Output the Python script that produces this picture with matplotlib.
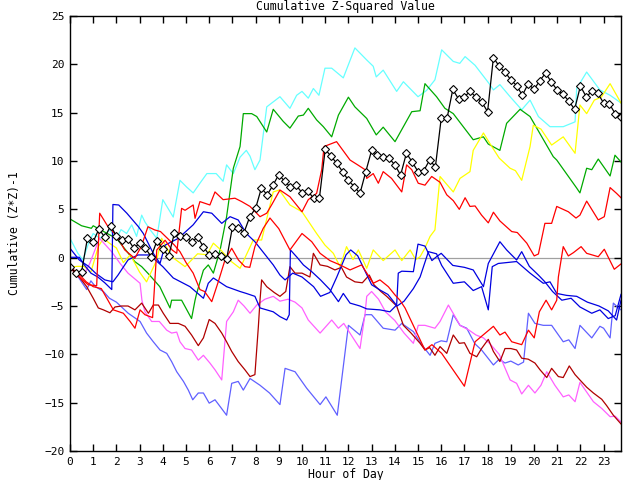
import numpy as np
import matplotlib
matplotlib.use("Agg")
import matplotlib.pyplot as plt

# hours of day, 15 minute steps (black series has a marker at every step)
black_x = np.arange(0, 24, 0.25)
black_y = [-0.93, -1.6, -1.45, 2.0, 1.65, 2.97, 2.1, 3.3, 2.25, 1.83, 1.9, 0.97,
           1.5, 0.97, 0.1, 1.76, 0.87, 0.18, 2.52, 2.24, 2.1, 1.65, 2.1, 1.14,
           0.28, 0.38, 0.18, -0.17, 3.14, 3.04, 2.6, 4.24, 5.1, 7.2, 6.5, 7.5,
           8.6, 7.9, 7.3, 7.5, 6.7, 6.9, 6.15, 6.15, 11.2, 10.5, 9.75, 8.9,
           8.0, 7.35, 6.65, 8.9, 11.1, 10.6, 10.4, 10.3, 9.6, 8.55, 10.8, 9.9,
           8.9, 9.0, 10.1, 9.4, 14.4, 14.4, 17.4, 16.4, 16.65, 17.2, 16.6, 16.1,
           15.1, 20.7, 19.8, 19.2, 18.4, 17.8, 16.8, 18.0, 17.4, 18.3, 19.1, 18.15,
           17.35, 16.9, 16.2, 15.35, 17.75, 16.65, 17.2, 17.0, 16.0, 15.9, 14.9, 14.5]

cyan_x = [0, 0.34, 0.56, 0.8, 1.0, 1.29, 1.72, 2.0, 2.2, 2.44, 2.66, 2.87, 3.09, 3.23,
          3.45, 3.74, 4.0, 4.45, 4.74, 5.03, 5.31, 5.6, 5.9, 6.3, 6.6, 6.75, 7.04, 7.33,
          7.6, 7.76, 7.97, 8.19, 8.48, 9.05, 9.48, 9.77, 10.0, 10.27, 10.49, 10.73, 10.99,
          11.28, 11.78, 12.28, 12.79, 13.07, 13.2, 13.5, 14.08, 14.37, 15.0, 15.37, 15.73,
          16.02, 16.52, 16.8, 17.03, 17.46, 18.1, 18.25, 18.53, 18.97, 19.47, 19.83, 20.19,
          20.69, 21.26, 21.77, 21.84, 22.27, 22.84, 23.28, 23.75]
cyan_y = [2.0, 0.45, -0.24, 1.5, 2.5, 2.0, 2.87, 2.0, 2.9, 2.5, 3.4, 2.2, 4.4, 3.7,
          2.9, 2.0, 6.0, 4.2, 8.0, 7.3, 6.7, 7.7, 8.7, 8.7, 7.9, 9.6, 8.7, 10.4,
          11.1, 10.5, 9.1, 10.1, 15.6, 16.65, 15.45, 16.8, 17.2, 16.5, 17.5, 16.8, 19.6,
          19.6, 18.6, 21.7, 20.45, 19.8, 18.7, 19.4, 17.2, 18.2, 16.65, 17.3, 18.4,
          21.5, 20.3, 20.1, 20.8, 19.9, 17.9, 17.35, 17.9, 16.65, 15.3, 16.3, 14.6,
          13.55, 13.55, 14.05, 17.5, 19.2, 17.35, 16.8, 16.0]

green_x = [0, 0.5, 0.92, 1.0, 1.72, 2.0, 2.4, 2.79, 3.09, 3.43, 3.87, 4.31, 4.38, 4.81,
           5.24, 5.39, 5.46, 5.75, 5.96, 6.18, 6.47, 6.75, 7.04, 7.33, 7.47, 7.83, 8.05,
           8.48, 8.76, 9.19, 9.48, 9.84, 10.06, 10.27, 10.63, 10.92, 11.28, 11.57, 12.0,
           12.28, 12.79, 13.2, 13.5, 14.01, 14.73, 15.09, 15.3, 15.8, 16.16, 16.52, 17.38,
           17.82, 18.03, 18.53, 18.82, 19.4, 19.83, 20.83, 20.98, 21.84, 21.98, 22.27,
           22.49, 22.77, 23.28, 23.49, 23.75]
green_y = [4.0, 3.3, 3.04, 3.3, 2.35, 2.0, 0.8, -0.4, -0.93, -1.8, -3.0, -5.2, -4.4, -4.4,
           -6.3, -4.4, -3.7, -1.3, -0.75, -1.6, 0.8, 4.24, 9.25, 11.5, 14.9, 14.9, 14.6,
           13.0, 15.35, 14.1, 13.4, 14.65, 14.75, 15.45, 14.25, 13.55, 12.5, 14.75, 16.6,
           15.6, 14.4, 12.7, 13.5, 12.0, 15.1, 15.2, 18.0, 16.65, 15.45, 14.9, 12.2,
           12.5, 11.75, 11.1, 13.9, 15.35, 14.6, 10.45, 10.1, 7.2, 6.7, 9.25,
           9.1, 10.2, 8.45, 10.6, 9.9]

yellow_x = [0, 0.3, 0.6, 0.9, 1.22, 1.44, 1.7, 2.0, 2.3, 2.6, 3.0, 3.3, 3.74, 3.95, 4.38,
            4.96, 5.5, 5.9, 6.18, 6.5, 6.9, 7.33, 7.9, 8.26, 8.76, 9.02, 9.48, 10.0, 10.63,
            10.99, 11.35, 11.64, 11.92, 12.2, 12.43, 12.79, 13.07, 13.5, 14.01, 14.3, 14.66,
            14.9, 15.09, 15.3, 15.52, 15.73, 15.95, 16.52, 16.81, 17.24, 17.38, 17.82, 18.1,
            18.5, 18.97, 19.2, 19.47, 19.83, 19.97, 20.3, 20.76, 21.26, 21.77, 21.98, 22.27,
            22.6, 22.9, 23.28, 23.75]
yellow_y = [-1.0, -0.9, -0.9, -1.5, 1.14, 2.0, 1.5, 1.0, -0.5, 0.3, -1.5, -2.5, -0.24, 2.0, 0.1,
            -0.93, 0.4, 0.3, 1.5, 0.8, -0.3, -1.1, 1.83, 1.83, 6.8, 7.0, 5.45, 4.75, 2.5,
            1.3, 0.45, -0.93, 1.14, -0.2, 0.8, -1.1, 0.8, -0.3, 0.8, -0.3, 0.8,
            -0.2, 0.1, 1.0, 2.2, 2.87, 8.4, 6.8, 8.2, 8.9, 11.1, 12.9, 11.8,
            10.3, 9.25, 9.0, 8.0, 11.5, 13.7, 13.3, 11.65, 12.5, 10.8, 15.8, 14.9,
            16.3, 16.6, 18.0, 16.0]

red_a_x = [0, 0.3, 0.7, 1.0, 1.35, 1.87, 2.3, 2.59, 2.8, 3.02, 3.23, 3.56, 3.74, 4.1, 4.4,
           4.6, 4.81, 4.96, 5.31, 5.39, 5.6, 6.03, 6.25, 6.6, 7.11, 7.4, 7.76, 8.19, 8.48,
           8.7, 9.05, 9.48, 10.0, 10.27, 10.63, 10.85, 10.95, 11.49, 12.07, 12.4, 12.72,
           12.79, 13.07, 13.29, 13.5, 13.86, 14.3, 14.51, 14.73, 15.01, 15.3, 15.59, 15.95,
           16.24, 16.52, 16.78, 17.03, 17.24, 17.46, 17.74, 18.03, 18.25, 18.53, 19.04,
           19.28, 19.69, 20.01, 20.19, 20.47, 20.76, 20.98, 21.48, 21.81, 21.98, 22.27,
           22.77, 23.03, 23.28, 23.56, 23.75]
red_a_y = [-1.0, -1.5, -2.5, -3.0, -3.2, -5.4, -5.75, -6.6, -7.3, -5.4, -5.9, -6.2, 0.8, 1.8, 0.8,
           0.45, 5.1, 4.9, 5.45, 4.07, 5.8, 5.45, 6.8, 6.0, 6.15, 5.8, 5.3, 4.24, 4.6,
           5.5, 7.0, 6.3, 4.75, 6.0, 6.65, 9.1, 11.5, 12.0, 10.1, 9.6, 9.1,
           8.2, 8.7, 7.7, 8.9, 8.2, 6.8, 9.6, 9.1, 7.7, 7.5, 8.4, 7.8,
           6.5, 5.9, 5.0, 6.2, 5.3, 5.35, 4.4, 3.6, 4.7, 3.8, 2.7,
           2.6, 1.5, 0.18, 0.38, 3.55, 3.55, 5.3, 4.75, 4.1, 4.4, 5.85,
           3.9, 4.24, 7.25, 6.65, 6.2]

red_b_x = [0, 0.3, 0.78, 1.15, 1.28, 1.64, 2.0, 2.36, 2.79, 3.07, 3.36, 3.65, 3.9, 4.2, 4.5,
           4.74, 5.0, 5.31, 5.6, 5.8, 6.11, 6.39, 6.68, 6.97, 7.26, 7.54, 7.75, 7.97, 8.33,
           8.62, 9.0, 9.48, 10.0, 10.42, 10.78, 11.2, 11.64, 12.07, 12.57, 13.07, 13.36,
           13.72, 14.01, 14.22, 14.44, 15.3, 15.6, 16.02, 17.0, 17.46, 18.25, 18.53, 18.75,
           19.04, 19.47, 19.76, 20.01, 20.23, 20.52, 20.76, 20.98, 21.05, 21.26, 21.48,
           21.7, 22.03, 22.27, 22.77, 23.03, 23.46, 23.75]
red_b_y = [-1.0, -1.8, -2.8, -2.9, 4.6, 3.2, 2.3, 0.8, -0.07, 1.14, 3.2, 2.87, 2.7, 2.0, 1.3,
           0.62, -0.5, -1.6, -3.3, -3.5, -4.55, -2.5, -0.24, 0.97, -0.24, -0.93, -1.0, 1.14, 3.04,
           4.1, 3.0, 0.8, 2.5, 1.65, 0.45, -0.3, -0.75, -1.27, -0.75, -2.65, -2.3,
           -3.0, -3.86, -4.4, -5.2, -9.55, -9.0, -9.9, -13.3, -8.7, -7.1, -8.0, -7.7,
           -8.7, -9.0, -7.5, -8.3, -5.6, -4.4, -5.4, -4.4, -2.0, 1.14, 0.18,
           0.52, 1.14, 0.45, 0.1, 0.87, -1.2, -0.65]

darkred_x = [0, 0.4, 0.72, 1.0, 1.22, 1.44, 1.72, 1.94, 2.23, 2.5, 2.8, 3.09, 3.38, 3.59,
             3.81, 4.02, 4.31, 4.67, 4.96, 5.24, 5.53, 5.75, 6.0, 6.25, 6.54, 6.75, 6.97,
             7.25, 7.54, 7.76, 7.97, 8.12, 8.19, 8.26, 8.48, 8.8, 9.05, 9.3, 9.48, 9.7,
             10.0, 10.34, 10.49, 10.78, 11.1, 11.42, 11.7, 11.92, 12.28, 12.6, 12.9, 13.1,
             13.4, 13.65, 14.08, 14.37, 14.7, 15.09, 15.3, 15.5, 15.73, 15.95, 16.24, 16.52,
             16.78, 17.0, 17.24, 17.53, 17.74, 18.03, 18.25, 18.53, 18.75, 19.0, 19.25,
             19.47, 19.75, 20.04, 20.26, 20.55, 20.76, 21.05, 21.26, 21.52, 21.77, 21.98,
             22.27, 22.56, 22.92, 23.13, 23.42, 23.75]
darkred_y = [-1.0, -2.0, -3.0, -4.2, -5.2, -5.4, -5.7, -5.1, -5.0, -5.0, -5.4, -4.7, -5.75, -4.9,
             -4.9, -5.75, -6.8, -6.8, -7.1, -8.0, -9.1, -8.3, -6.4, -6.8, -7.8, -8.7, -9.7,
             -10.75, -11.6, -12.3, -12.1, -7.1, -4.4, -2.3, -3.0, -3.6, -4.0, -3.5, -0.93, -1.6,
             -1.6, -2.0, 0.45, -0.75, -0.9, -1.27, -1.0, -2.0, -2.5, -2.6, -1.8, -2.8,
             -3.5, -4.0, -5.0, -7.0, -7.8, -8.86, -9.55, -9.3, -10.1, -9.2, -9.9, -8.0,
             -8.86, -8.8, -9.9, -10.25, -9.4, -8.45, -9.7, -10.75, -9.4, -9.4, -9.55,
             -10.4, -10.5, -10.9, -11.6, -12.4, -11.45, -12.3, -12.4, -11.2, -12.1, -12.65,
             -13.4, -14.0, -14.65, -15.3, -16.3, -17.2]

blue_a_x = [0, 0.4, 0.8, 1.1, 1.5, 1.85, 2.07, 2.5, 2.93, 3.43, 4.0, 4.45, 5.17, 5.75, 5.96,
            6.18, 6.75, 7.33, 7.6, 7.97, 8.19, 8.76, 9.05, 9.34, 9.45, 9.5, 9.8, 10.06,
            10.42, 10.8, 11.2, 11.57, 11.78, 12.07, 12.5, 12.79, 13.36, 13.79, 14.08, 14.15,
            14.3, 14.8, 15.0, 15.3, 15.6, 15.8, 16.0, 16.5, 17.0, 17.38, 17.82, 18.03,
            18.53, 18.82, 19.25, 19.47, 19.8, 20.19, 20.47, 20.8, 21.2, 21.6, 21.98, 22.49,
            22.84, 23.2, 23.5, 23.75]
blue_a_y = [0.97, -0.24, -0.9, -1.6, -2.3, -2.5, -1.8, -0.24, 0.28, 0.28, -0.93, -2.1, -3.0, -4.2, -2.65,
            -2.1, -3.0, -3.5, -3.7, -4.0, -5.2, -5.6, -6.1, -6.45, -5.9, 0.8, 0.0, -0.75,
            -1.45, -2.3, -3.3, -4.55, -3.7, -4.7, -5.0, -5.3, -5.4, -5.6, -4.9, -1.6,
            -1.4, -1.45, 1.4, 1.2, -0.3, 0.1, 0.45, -0.8, -1.0, -1.27, -3.0, -0.6,
            1.65, 0.8, -0.24, 0.62, -0.9, -1.8, -2.5, -3.5, -4.4, -4.2, -5.1, -5.75,
            -5.4, -6.3, -6.0, -3.8]

blue_b_x = [0, 0.4, 0.6, 0.9, 1.2, 1.5, 1.8, 1.85, 2.1, 2.45, 2.95, 3.16, 3.59, 3.88, 4.1,
            4.67, 5.31, 5.75, 6.11, 6.54, 6.9, 7.25, 7.6, 7.97, 8.76, 9.05, 9.27, 9.6, 10.0,
            10.5, 10.8, 11.2, 11.5, 11.9, 12.1, 12.4, 12.7, 13.0, 13.4, 13.7, 14.1, 14.4,
            14.8, 15.09, 15.45, 15.8, 16.02, 16.52, 17.0, 17.38, 17.74, 18.03, 18.2, 18.46,
            19.25, 19.83, 20.4, 20.69, 20.98, 21.4, 21.84, 22.3, 22.8, 23.2, 23.56, 23.75]
blue_b_y = [0.04, 0.04, -0.7, -1.6, -2.0, -2.6, -3.3, 5.5, 5.45, 4.6, 3.2, 2.5, 0.45, -0.6, 1.3,
            2.0, 3.4, 4.75, 4.6, 3.55, 4.24, 3.9, 2.5, 1.65, -0.75, -1.8, -2.3, -1.6, -2.0,
            -3.0, -4.0, -3.6, -2.0, 0.3, 0.8, 0.2, -1.3, -2.8, -3.4, -3.8, -5.0, -4.5,
            -3.2, -2.0, 0.62, 0.4, -0.8, -2.65, -2.5, -3.4, -3.0, -5.4, -0.93, -0.6,
            -0.4, -1.6, -2.65, -2.5, -3.7, -3.9, -4.0, -4.6, -5.0, -5.5, -6.45, -4.4]

slate_x = [0, 0.3, 0.72, 0.9, 1.1, 1.44, 1.7, 2.0, 2.51, 3.02, 3.3, 3.59, 3.88, 4.17, 4.38,
           4.6, 4.89, 5.1, 5.29, 5.53, 5.75, 6.0, 6.25, 6.47, 6.75, 6.97, 7.25, 7.47, 7.76,
           8.19, 8.6, 9.05, 9.27, 9.7, 10.2, 10.78, 11.03, 11.52, 12.0, 12.5, 12.72, 13.0,
           13.5, 14.01, 14.3, 14.8, 15.16, 15.52, 15.73, 16.0, 16.24, 16.52, 16.81, 17.1,
           17.45, 17.74, 18.25, 18.5, 18.75, 19.0, 19.32, 19.55, 19.76, 20.04, 20.4, 20.76,
           21.26, 21.5, 21.77, 21.98, 22.49, 22.84, 23.0, 23.28, 23.42, 23.55, 23.75]
slate_y = [-1.0, -1.8, -3.3, -2.4, -3.0, -3.5, -4.2, -4.6, -5.75, -6.6, -7.8, -8.7, -9.55, -9.9, -10.75,
           -11.8, -12.8, -13.7, -14.7, -14.0, -14.0, -15.05, -14.7, -15.4, -16.3, -13.0, -12.8, -13.7, -12.5,
           -13.2, -14.0, -15.2, -11.45, -11.8, -13.5, -15.2, -14.4, -16.3, -7.0, -8.0, -5.9, -5.9,
           -7.3, -7.5, -6.8, -7.65, -9.0, -10.1, -8.86, -8.6, -8.7, -5.9, -7.0, -7.3,
           -8.9, -9.55, -11.1, -10.5, -10.9, -10.7, -11.1, -10.8, -5.75, -6.8, -7.0, -7.0,
           -8.7, -8.5, -9.4, -7.0, -8.3, -7.1, -7.3, -8.3, -4.7, -5.0, -5.4]

magenta_x = [0, 0.3, 0.6, 0.85, 1.27, 1.5, 1.8, 2.16, 2.5, 3.02, 3.1, 3.23, 3.52, 3.85, 4.17,
             4.38, 4.6, 4.74, 4.96, 5.24, 5.53, 5.75, 6.03, 6.25, 6.54, 6.75, 7.04, 7.25, 7.5,
             7.76, 8.05, 8.4, 8.76, 9.05, 9.4, 9.7, 10.0, 10.27, 10.78, 11.28, 11.57, 11.8,
             12.2, 12.5, 12.72, 12.79, 13.0, 13.3, 13.6, 14.0, 14.4, 14.8, 15.01, 15.3, 15.73,
             15.95, 16.31, 16.55, 16.81, 17.2, 17.5, 17.82, 18.1, 18.5, 18.97, 19.25, 19.47,
             19.76, 20.04, 20.3, 20.55, 20.9, 21.26, 21.5, 21.77, 21.98, 22.27, 22.56, 22.92,
             23.28, 23.5, 23.75]
magenta_y = [-1.0, -1.6, -1.8, -0.6, 2.0, 1.4, 0.6, -0.6, -1.6, -2.65, -4.4, -5.6, -6.6, -6.6, -7.5,
             -7.8, -7.7, -8.7, -9.4, -9.55, -10.6, -10.1, -10.9, -11.6, -12.65, -6.6, -5.6, -4.4, -5.0,
             -5.75, -4.9, -4.3, -4.0, -4.5, -4.3, -4.6, -5.2, -6.45, -7.8, -6.45, -7.3, -6.8,
             -8.3, -9.4, -5.75, -4.0, -3.5, -4.3, -5.6, -6.5, -7.8, -8.86, -7.0, -7.0, -7.3,
             -6.6, -4.9, -5.9, -7.0, -7.5, -8.0, -8.3, -8.9, -10.0, -12.65, -13.0, -14.1,
             -13.2, -14.0, -13.2, -11.8, -13.2, -14.4, -14.2, -14.9, -12.9, -13.9, -14.9, -15.6,
             -16.45, -16.4, -17.0]

hour_ticks = list(range(0, 24))
value_ticks = list(range(-20, 26, 5))

plt.rcParams["font.family"] = "DejaVu Sans Mono"

fig = plt.figure(figsize=(6.4, 4.8), dpi=100)
ax = fig.add_axes([70 / 640, 29 / 480, 551 / 640, 435 / 480])

ax.axhline(0, color="#a0a0a0", lw=0.9, zorder=1)

lw = 0.9
ax.plot(cyan_x, cyan_y, color="#66ffff", lw=lw)
ax.plot(green_x, green_y, color="#00aa00", lw=lw)
ax.plot(yellow_x, yellow_y, color="#ffff00", lw=lw)
ax.plot(slate_x, slate_y, color="#6060ff", lw=lw)
ax.plot(magenta_x, magenta_y, color="#ff60ff", lw=lw)
ax.plot(darkred_x, darkred_y, color="#b00000", lw=lw)
ax.plot(blue_a_x, blue_a_y, color="#0000e0", lw=lw)
ax.plot(blue_b_x, blue_b_y, color="#0000e0", lw=lw)
ax.plot(red_b_x, red_b_y, color="#ff0000", lw=lw)
ax.plot(red_a_x, red_a_y, color="#ff0000", lw=lw)
ax.plot(black_x, black_y, color="black", lw=lw, marker="D", ms=4.2,
        mfc="white", mec="black", mew=0.8)

ax.set_xlim(0, 23.75)
ax.set_ylim(-20, 25)
ax.set_xticks(hour_ticks)
ax.set_yticks(value_ticks)
ax.tick_params(direction="in", top=True, right=True, length=5, width=1,
               labelsize=8, pad=4)
for s in ax.spines.values():
    s.set_linewidth(1)

ax.set_title("Cumulative Z-Squared Value", fontsize=8.3, pad=4)
ax.set_xlabel("Hour of Day", fontsize=8.3, labelpad=1)
ax.set_ylabel("Cumulative (Z*Z)-1", fontsize=8.3, labelpad=17)

fig.savefig("out.png", dpi=100)
